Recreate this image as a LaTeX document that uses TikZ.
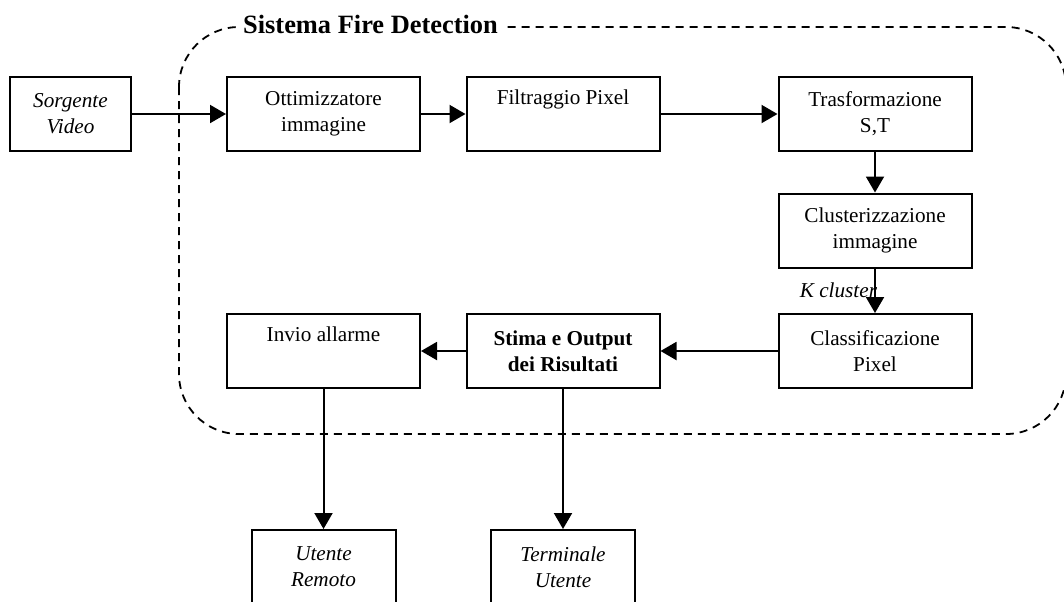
\documentclass[tikz,border=0pt]{standalone}
\usepackage{fontspec}
\setmainfont{Liberation Serif}
\usetikzlibrary{arrows.meta}
\tikzset{
	blocco/.style={draw, line width=1pt, minimum width=96.5pt, minimum height=37pt, align=center, inner sep=2pt, font=\fontsize{10.6}{13}\selectfont},
	corsivo/.style={blocco, font=\fontsize{10.6}{13}\selectfont\itshape},
	freccia/.style={line width=1pt, -{Triangle[length=8pt,width=9pt]}}
}

\begin{document}
\begin{tikzpicture}[x=0.5pt, y=-0.5pt]
	%%%%% START %%%%%
	\useasboundingbox (0, 0) rectangle (1064, 601);
	
	% sistema
	\draw[dash pattern=on 4pt off 3pt, line width=0.9pt, rounded corners=30pt] (179, 27) rectangle (1066, 434);
	\node[fill=white, inner xsep=3pt, inner ysep=1pt, font=\fontsize{13.2}{15}\selectfont\bfseries] (titolo) at (370.5, 24) {Sistema Fire Detection};
	
	% prima riga
	\node[corsivo, minimum width=60.5pt] (src) at (70.5, 114) {Sorgente\\Video};
	\node[blocco] (ottim) at (323.5, 114) {Ottimizzatore\\immagine};
	\node[blocco] (filtro) at (563, 114) {Filtraggio Pixel\\\strut};
	\node[blocco] (trasf) at (875, 114) {Trasformazione\\S,T};
	
	% colonna destra
	\node[blocco] (clust) at (875, 230.5) {Clusterizzazione\\immagine};
	\node[blocco] (classif) at (875, 351) {Classificazione\\Pixel};
	
	% uscite
	\node[blocco, font=\fontsize{10.6}{13}\selectfont\bfseries] (stima) at (563, 351) {Stima e Output\\dei Risultati};
	\node[blocco] (invio) at (323.5, 351) {Invio allarme\\\strut};
	\node[corsivo, minimum width=72pt] (utente) at (323.5, 567) {Utente\\Remoto};
	\node[corsivo, minimum width=72pt] (term) at (563, 567) {Terminale\\Utente};
	
	\draw[freccia] (src) -- (ottim);
	\draw[freccia] (ottim) -- (filtro);
	\draw[freccia] (filtro) -- (trasf);
	\draw[freccia] (trasf) -- (clust);
	\draw[freccia] (clust) -- node[midway, anchor=east, inner sep=0pt, xshift=1.5pt, font=\fontsize{10.6}{13}\selectfont\itshape] (kc) {K cluster} (classif);
	\draw[freccia] (classif) -- (stima);
	\draw[freccia] (stima) -- (invio);
	\draw[freccia] (invio) -- (utente);
	\draw[freccia] (stima) -- (term);
	%%%%% END %%%%%
\end{tikzpicture}
\end{document}
